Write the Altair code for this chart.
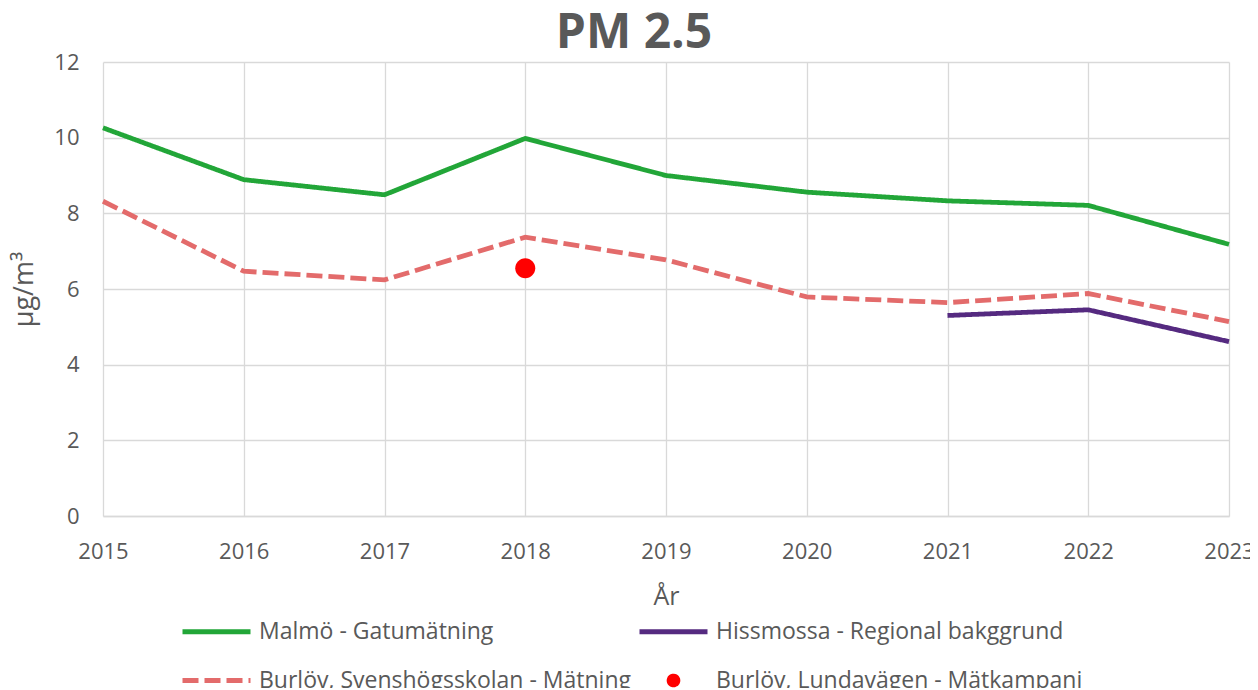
import altair as alt
import pandas as pd

years = [2015, 2016, 2017, 2018, 2019, 2020, 2021, 2022, 2023]
malmo = [10.26, 8.89, 8.49, 9.98, 9.00, 8.56, 8.33, 8.21, 7.18]
burlov = [8.32, 6.47, 6.24, 7.37, 6.77, 5.79, 5.64, 5.88, 5.14]
hiss_years = [2021, 2022, 2023]
hiss = [5.30, 5.45, 4.61]
lund_years = [2018]
lund = [6.55]

series_names = [
    "Malmö - Gatumätning",
    "Hissmossa - Regional bakggrund",
    "Burlöv, Svenshögsskolan - Mätning",
    "Burlöv, Lundavägen - Mätkampanj",
]
colors = ["#22a638", "#552a80", "#e36b6b", "#ff0000"]
dashes = [[1, 0], [1, 0], [16, 6], [1, 0]]
dot_path = "M-0.13,0A0.13,0.13,0,1,1,0.13,0A0.13,0.13,0,1,1,-0.13,0Z"
shapes = ["stroke", "stroke", "stroke", dot_path]

rows = []
for y, v in zip(years, malmo):
    rows.append({"series": series_names[0], "year": y, "value": v})
for y, v in zip(hiss_years, hiss):
    rows.append({"series": series_names[1], "year": y, "value": v})
for y, v in zip(years, burlov):
    rows.append({"series": series_names[2], "year": y, "value": v})
lines_df = pd.DataFrame(rows)
points_df = pd.DataFrame({"series": [series_names[3]] * len(lund), "year": lund_years, "value": lund})

FONT = "Open Sans"
GRAY = "#595959"

leg = alt.Legend(
    title=None, orient="none", legendX=77, legendY=533, columns=2, direction="horizontal",
    labelFont=FONT, labelFontSize=23, labelColor=GRAY, labelOffset=6, labelLimit=0,
    symbolSize=4624, symbolStrokeWidth=4.8, rowPadding=-25, columnPadding=-2,
)

x_enc = alt.X("year:Q", scale=alt.Scale(domain=[2015, 2023], nice=False, zero=False),
              axis=alt.Axis(title="År", format="d", values=years, labelPadding=25, titlePadding=22,
                            titleFontSize=25, titleFontWeight="normal", labelFlush=False))
y_enc = alt.Y("value:Q", scale=alt.Scale(domain=[0, 12], nice=False),
              axis=alt.Axis(title="µg/m³", values=[0, 2, 4, 6, 8, 10, 12], labelPadding=24,
                            titlePadding=15, titleFontSize=27, titleFontWeight="normal"))

color = alt.Color("series:N", scale=alt.Scale(domain=series_names, range=colors), legend=leg)
dash = alt.StrokeDash("series:N", scale=alt.Scale(domain=series_names, range=dashes), legend=leg)
shape = alt.Shape("series:N", scale=alt.Scale(domain=series_names, range=shapes), legend=leg)

lines = alt.Chart(lines_df).mark_line(strokeWidth=4.8).encode(
    x=x_enc, y=y_enc, color=color, strokeDash=dash, shape=shape
)
points = alt.Chart(points_df).mark_point(filled=True, opacity=1, size=23669).encode(
    x="year:Q", y="value:Q", color=color, shape=shape
)

chart = alt.layer(lines, points).properties(
    width=1126, height=454,
    padding={"left": 95, "top": 54, "right": 21, "bottom": 172},
    autosize=alt.AutoSizeParams(type="none"),
    title=alt.TitleParams("PM 2.5", fontSize=48, font=FONT, fontWeight="bold", color=GRAY,
                          anchor="middle", dx=-32, offset=-7),
).configure_view(stroke=None).configure_axis(
    labelFont=FONT, titleFont=FONT, labelFontSize=22, labelColor=GRAY, titleColor=GRAY,
    gridColor="#d9d9d9", gridWidth=1.3, ticks=False, domainColor="#d9d9d9", domainWidth=1.3,
).configure_axisY(domain=False)

chart.save("out.html", embed_options={"renderer": "svg", "actions": False})
